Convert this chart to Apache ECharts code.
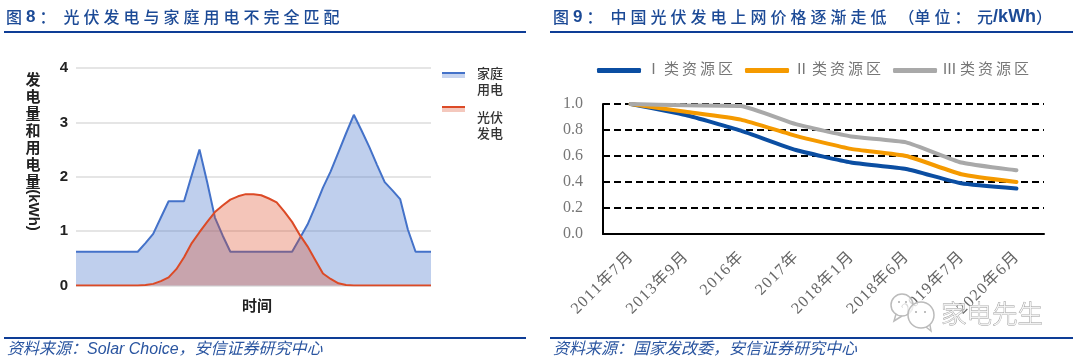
<!DOCTYPE html>
<html>
<head>
<meta charset="utf-8">
<style>
  html, body { margin: 0; padding: 0; background: #fff; }
  #chart { width: 1080px; height: 361px; }
</style>
<script src="https://cdn.jsdelivr.net/npm/echarts@6/dist/echarts.min.js"></script>
</head>
<body>
<div id="chart"></div>
<script>
const CJK = '"Noto Sans CJK SC", sans-serif';
const SERIF = '"Liberation Serif", "Noto Sans CJK SC", serif';
const SANS = '"Liberation Sans", "Noto Sans CJK SC", sans-serif';

// left chart, half hour steps
const timeSlots = ['0','1','2','3','4','5','6','7','8','9','10','11','12','13','14','15','16','17','18','19','20','21','22','23','24','25','26','27','28','29','30','31','32','33','34','35','36','37','38','39','40','41','42','43','44','45','46'];
const homeUse = [0.62,0.62,0.62,0.62,0.62,0.62,0.62,0.62,0.62,0.78,0.95,1.25,1.55,1.55,1.55,2.03,2.5,1.9,1.25,0.92,0.62,0.62,0.62,0.62,0.62,0.62,0.62,0.62,0.62,0.87,1.12,1.45,1.8,2.1,2.45,2.8,3.14,2.85,2.55,2.22,1.9,1.75,1.59,1.03,0.62,0.62,0.62];
const pvOutput = [0,0,0,0,0,0,0,0,0,0.01,0.03,0.08,0.15,0.3,0.52,0.78,0.98,1.17,1.35,1.47,1.58,1.64,1.68,1.68,1.66,1.6,1.53,1.36,1.17,0.93,0.72,0.47,0.22,0.12,0.04,0.01,0,0,0,0,0,0,0,0,0,0,0];

// right chart
const priceDates = ['2011年7月','2013年9月','2016年','2017年','2018年1月','2018年6月','2019年7月','2020年6月'];
const zone1 = [1.0,0.915,0.795,0.646,0.55,0.5,0.39,0.35];
const zone2 = [1.0,0.94,0.88,0.755,0.655,0.6,0.46,0.4];
const zone3 = [1.0,0.99,0.985,0.845,0.75,0.705,0.55,0.49];

const SP = '\u2005';
const TH = '\u2009';
const COLON = '\uFF1A';
const COMMA = '\uFF0C';
const spaced = (s, gap) => [...s].join(gap);

const chart = echarts.init(document.getElementById('chart'), null, { renderer: 'canvas' });

const titleRich = {
  c: { fontFamily: CJK, fontSize: 16, fontWeight: 500, fill: '#1c4a96' },
  b: { fontFamily: SANS, fontSize: 17, fontWeight: 'bold', fill: '#1c4a96' },
  u: { fontFamily: SANS, fontSize: 18, fontWeight: 'bold', fill: '#1c4a96' }
};
const sourceStyle = { fontFamily: SANS, fontSize: 16, fontStyle: 'italic', fill: '#2a55a0', verticalAlign: 'middle' };
const keyTextStyle = { fontFamily: CJK, fontSize: 13, fontWeight: 500, fill: '#333', verticalAlign: 'middle' };
const bubbleStyle = { fill: 'rgba(255,255,255,0.75)', stroke: '#bbb', lineWidth: 1.5 };

function rule(x1, x2, y) {
  return { type: 'line', shape: { x1, y1: y, x2, y2: y }, style: { stroke: '#0e3d96', lineWidth: 2 } };
}
function label(x, y, text, style) {
  return { type: 'text', x, y, style: Object.assign({ text }, style) };
}
function title(x, y, text) {
  return { type: 'text', x, y, style: { text, rich: titleRich, verticalAlign: 'middle' } };
}
function key(y, color) {
  return [
    { type: 'rect', shape: { x: 442, y, width: 23, height: 6 }, style: { fill: color, opacity: 0.3 } },
    { type: 'rect', shape: { x: 442, y, width: 23, height: 2 }, style: { fill: color } }
  ];
}
function dot(x, y) {
  return { type: 'circle', shape: { cx: x, cy: y, r: 1 }, style: { fill: '#aaa' }, z: 20 };
}
function tail(points) {
  return { type: 'polyline', shape: { points }, style: { fill: 'none', stroke: '#bbb', lineWidth: 1.5 }, z: 20 };
}

chart.setOption({
  animation: false,
  backgroundColor: '#fff',
  legend: {
    data: ['Ⅰ类资源区', 'Ⅱ类资源区', 'Ⅲ类资源区'].map(s => spaced(s, TH)),
    left: 592, top: 58, itemWidth: 44, itemHeight: 5, itemGap: 12,
    icon: 'roundRect',
    textStyle: { fontFamily: SERIF, fontSize: 15, color: '#777' }
  },
  grid: [
    { left: 76, width: 355, top: 68, height: 217.5 },
    { left: 603, width: 441, top: 104, height: 130 }
  ],
  xAxis: [
    { type: 'category', gridIndex: 0, data: timeSlots, boundaryGap: false, axisLine: { show: false }, axisTick: { show: false }, axisLabel: { show: false } },
    { type: 'category', gridIndex: 1, data: priceDates, boundaryGap: true,
      axisLine: { lineStyle: { color: '#000', width: 2 } }, axisTick: { show: false },
      axisLabel: { rotate: 45, interval: 0, margin: 21, fontFamily: SERIF, fontSize: 16, color: '#666',
        formatter: v => spaced(v, '\u200a') } }
  ],
  yAxis: [
    { type: 'value', gridIndex: 0, min: 0, max: 4, interval: 1, axisLine: { show: false }, axisTick: { show: false },
      axisLabel: { margin: 8, fontFamily: SANS, fontWeight: 'bold', fontSize: 15, color: '#222' },
      splitLine: { lineStyle: { color: '#ddd', width: 1.5 } } },
    { type: 'value', gridIndex: 1, min: 0, max: 1, interval: 0.2, axisLine: { show: true, lineStyle: { color: '#000', width: 2 } }, axisTick: { show: false },
      axisLabel: { margin: 20, formatter: v => v.toFixed(1), fontFamily: SERIF, fontSize: 16, color: '#777' },
      splitLine: { lineStyle: { color: '#000', type: [7, 4], width: 2 } } }
  ],
  series: [
    { name: '家庭用电', type: 'line', xAxisIndex: 0, yAxisIndex: 0, data: homeUse, symbol: 'none', z: 2,
      lineStyle: { color: '#4472c9', width: 2 }, areaStyle: { color: '#4472c9', opacity: 0.34 } },
    { name: '光伏发电', type: 'line', xAxisIndex: 0, yAxisIndex: 0, data: pvOutput, symbol: 'none', z: 3,
      lineStyle: { color: '#dc4a26', width: 2 }, areaStyle: { color: '#dc4a26', opacity: 0.32 } },
    { name: spaced('Ⅰ类资源区', TH), type: 'line', xAxisIndex: 1, yAxisIndex: 1, data: zone1, symbol: 'none', smooth: 0.15, z: 3,
      itemStyle: { color: '#0b4ea2' }, lineStyle: { color: '#0b4ea2', width: 4, cap: 'round' } },
    { name: spaced('Ⅱ类资源区', TH), type: 'line', xAxisIndex: 1, yAxisIndex: 1, data: zone2, symbol: 'none', smooth: 0.15, z: 4,
      itemStyle: { color: '#f59a00' }, lineStyle: { color: '#f59a00', width: 4, cap: 'round' } },
    { name: spaced('Ⅲ类资源区', TH), type: 'line', xAxisIndex: 1, yAxisIndex: 1, data: zone3, symbol: 'none', smooth: 0.15, z: 5,
      itemStyle: { color: '#a9a9a9' }, lineStyle: { color: '#a9a9a9', width: 4, cap: 'round' } }
  ],
  graphic: [
    title(6, 17, '{c|图' + SP + '}{b|8}{c|' + SP + COLON + '\u2002' + spaced('光伏发电与家庭用电不完全匹配', SP) + '}'),
    title(553, 17, '{c|图' + SP + '}{b|9}{c|' + SP + COLON + '\u2002' + spaced('中国光伏发电上网价格逐渐走低', SP) + SP + '\u2002\uFF08' + spaced('单位' + COLON, SP) + SP + '\u2006元}{u|/kWh}{c|\uFF09}'),
    rule(4, 526, 32), rule(550, 1073, 32),
    rule(4, 526, 338), rule(550, 1073, 338),
    label(7, 350, '资料来源' + COLON + 'Solar Choice' + COMMA + '安信证券研究中心', sourceStyle),
    label(553, 350, '资料来源' + COLON + '国家发改委' + COMMA + '安信证券研究中心', sourceStyle),
    // left axis title and key
    label(33, 71, '发\n电\n量\n和\n用\n电\n量', { fontFamily: CJK, fontSize: 15, fontWeight: 'bold', fill: '#222', align: 'center', verticalAlign: 'top', lineHeight: 17 }),
    { type: 'text', x: 33, y: 210, rotation: -Math.PI / 2, style: { text: '(kWh)', fontFamily: SANS, fontSize: 15, fontWeight: 'bold', fill: '#222', align: 'center', verticalAlign: 'middle' } },
    label(257, 305, '时间', { fontFamily: CJK, fontSize: 15, fontWeight: 'bold', fill: '#222', align: 'center', verticalAlign: 'middle' }),
    ...key(72, '#4472c9'),
    ...key(106, '#dc4a26'),
    label(477, 73, '家庭', keyTextStyle),
    label(477, 89, '用电', keyTextStyle),
    label(477, 117, '光伏', keyTextStyle),
    label(477, 133, '发电', keyTextStyle),
    // watermark
    { type: 'circle', shape: { cx: 902, cy: 305, r: 11 }, style: bubbleStyle, z: 20 },
    { type: 'circle', shape: { cx: 921, cy: 315, r: 13 }, style: bubbleStyle, z: 20 },
    tail([[896, 314], [894, 321], [902, 316]]),
    tail([[926, 327], [931, 331], [930, 325]]),
    dot(899, 302), dot(906, 302), dot(916, 312), dot(925, 312),
    { type: 'text', x: 941, y: 313, z: 20, style: { text: '家电先生', fontFamily: CJK, fontSize: 25.5, fontWeight: 300, fill: 'rgba(255,255,255,0.8)', stroke: '#999', lineWidth: 0.8, verticalAlign: 'middle' } }
  ]
});
</script>
</body>
</html>
